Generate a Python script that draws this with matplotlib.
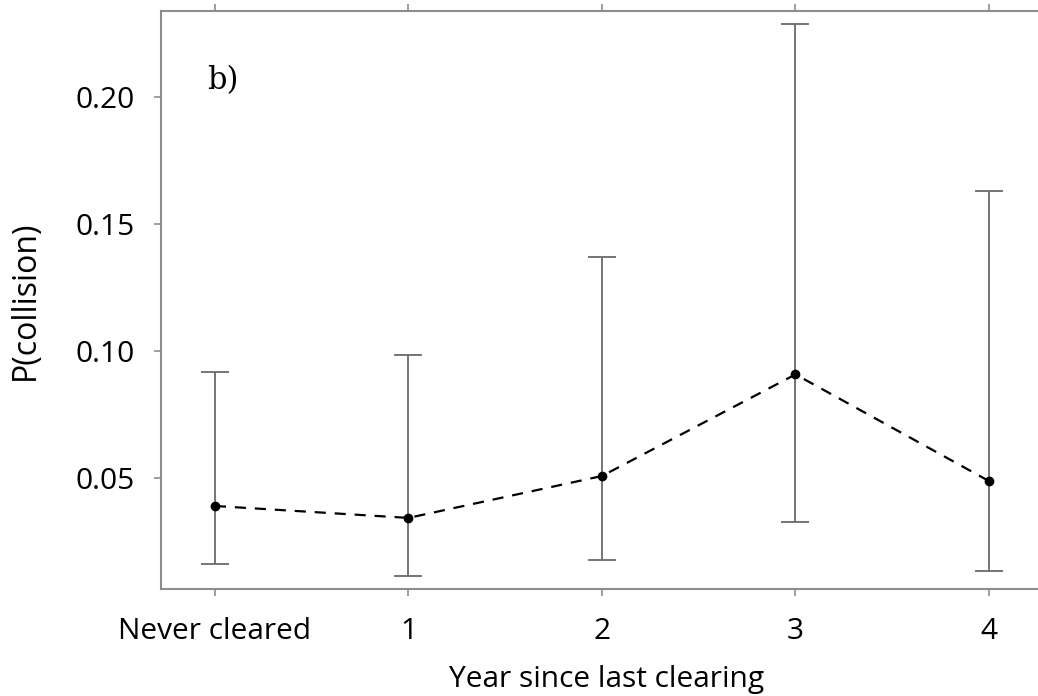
import matplotlib
matplotlib.use('Agg')
import matplotlib.pyplot as plt
import numpy as np

categories = ["Never cleared", "1", "2", "3", "4"]
p_collision = [0.0390, 0.0343, 0.0508, 0.0908, 0.0488]
ci_lower = [0.0161, 0.0114, 0.0177, 0.0327, 0.0134]
ci_upper = [0.0917, 0.0984, 0.1370, 0.2287, 0.1631]
y_ticks = [0.05, 0.10, 0.15, 0.20]

x = np.arange(len(categories))
p = np.array(p_collision)
err = [p - np.array(ci_lower), np.array(ci_upper) - p]

fig = plt.figure(figsize=(10.38, 6.96), dpi=100)
ax = fig.add_axes([0.155, 0.1537, 0.845, 0.8305])

spine_col = "#8c8c8c"
ax.errorbar(x, p, yerr=err, fmt="none", ecolor="#6a6a6a", elinewidth=1.3,
            capsize=10, capthick=1.3, zorder=2)
ax.plot(x, p, linestyle=(0, (5, 4)), color="black", linewidth=1.6, zorder=3)
ax.plot(x, p, "o", color="black", markersize=6, zorder=4)

ax.set_xlim(-0.279, 4.253)
ax.set_ylim(0.0063, 0.2339)

ax.set_xticks(x)
ax.set_xticklabels(categories)
ax.set_yticks(y_ticks)
ax.set_yticklabels([f"{v:.2f}" for v in y_ticks])

ax.spines["right"].set_visible(False)
for s in ["left", "top", "bottom"]:
    ax.spines[s].set_color(spine_col)
    ax.spines[s].set_linewidth(1.5)

ax.tick_params(axis="both", colors=spine_col, length=5, width=1.2, labelcolor="black",
               labelsize=21.5)
ax.tick_params(axis="x", top=True, pad=15)
ax.tick_params(axis="y", pad=14)
for lbl in ax.get_xticklabels() + ax.get_yticklabels():
    lbl.set_family("Open Sans")

ax.set_xlabel("Year since last clearing", fontsize=21.5, family="Open Sans", va="bottom")
ax.xaxis.set_label_coords(0.508, -0.182)
ax.set_ylabel("P(collision)", fontsize=23, family="Open Sans")
ax.yaxis.set_label_coords(-0.136, 0.5)

ax.text(-0.04, 0.2065, "b)", fontsize=22, family="DejaVu Serif", ha="left", va="center")

fig.savefig("out.png", dpi=100)
